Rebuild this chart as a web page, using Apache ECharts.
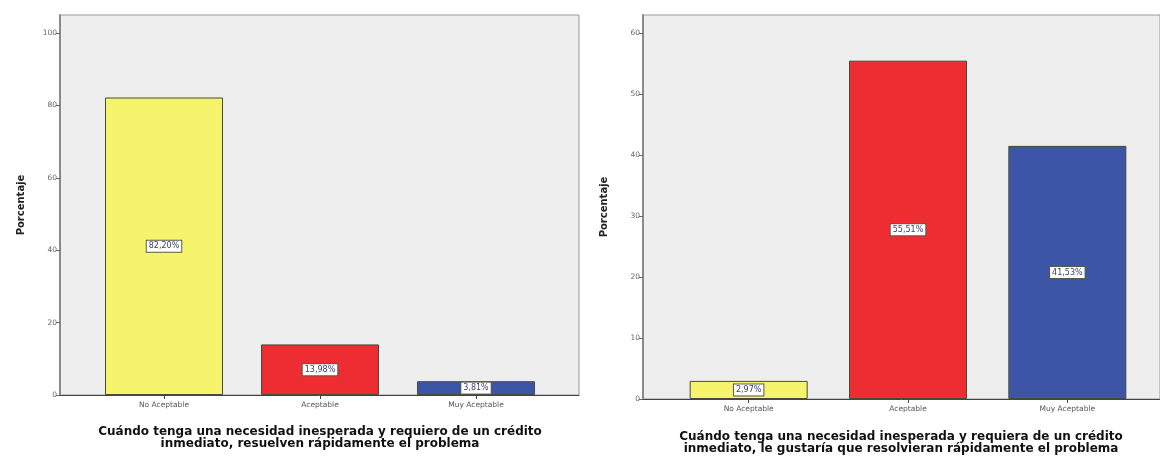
<!DOCTYPE html>
<html>
<head>
<meta charset="utf-8">
<script src="https://cdn.jsdelivr.net/npm/echarts@6/dist/echarts.min.js"></script>
<style>
  html, body { margin: 0; padding: 0; background: #ffffff; }
  #chart { width: 1160px; height: 456px; }
</style>
</head>
<body>
<div id="chart"></div>
<script>
// Response categories shared by both panels
const categories = ['No Aceptable', 'Aceptable', 'Muy Aceptable'];

// Percentages per panel
const valuesLeft = [82.20, 13.98, 3.81];
const valuesRight = [2.97, 55.51, 41.53];

// Y tick values per panel
const ticksLeft = [0, 20, 40, 60, 80, 100];
const ticksRight = [0, 10, 20, 30, 40, 50, 60];

// Bar fill colours per category
const barColors = ['#f6f36c', '#ee2d33', '#3c55a6'];

// Axis captions
const yTitle = 'Porcentaje';
const titleLeft = ['Cuándo tenga una necesidad inesperada y requiero de un crédito',
                   'inmediato, resuelven rápidamente el problema'];
const titleRight = ['Cuándo tenga una necesidad inesperada y requiera de un crédito',
                    'inmediato, le gustaría que resolvieran rápidamente el problema'];

const FONT = 'DejaVu Sans';

function pct(v) {
  return v.toFixed(2).replace('.', ',') + '%';
}

function barSeries(values, xi, yi) {
  return {
    type: 'bar',
    xAxisIndex: xi,
    yAxisIndex: yi,
    barWidth: 118,
    data: values.map((v, i) => ({
      value: v,
      itemStyle: { color: barColors[i] }
    })),
    itemStyle: { borderColor: '#4a4a3a', borderWidth: 1 },
    label: {
      show: true,
      position: 'inside',
      formatter: p => pct(p.value),
      fontFamily: FONT,
      fontSize: 8,
      color: '#3a3f66',
      backgroundColor: '#ffffff',
      borderColor: '#5a5a4a',
      borderWidth: 1,
      padding: [2, 2, 1, 2]
    },
    emphasis: { disabled: true },
    animation: false
  };
}

function frameY(max, ticks, grid) {
  return {
    type: 'value', gridIndex: grid, min: 0, max: max,
    name: yTitle, nameLocation: 'middle', nameGap: 34,
    nameTextStyle: { fontFamily: FONT, fontSize: 10, fontWeight: 'bold', color: '#222' },
    axisLine: { show: true, lineStyle: { color: '#8a8a8a', width: 2 } },
    axisTick: { show: true, length: 4, customValues: ticks, lineStyle: { color: '#666' } },
    axisLabel: {
      fontFamily: FONT, fontSize: 7.5, color: '#666', margin: 3,
      customValues: ticks
    },
    splitLine: { show: false }
  };
}

function hiddenY(max, grid) {
  return { type: 'value', gridIndex: grid, min: 0, max: max, show: false };
}

function frameX(grid) {
  return {
    type: 'value', gridIndex: grid, min: 0, max: 1,
    axisLine: { show: true, onZero: false, lineStyle: { color: '#444', width: 1 } },
    axisTick: { show: false }, axisLabel: { show: false }, splitLine: { show: false }
  };
}

function dataX(grid) {
  return {
    type: 'category', gridIndex: grid, data: categories,
    axisLine: { show: false },
    axisTick: { show: true, alignWithLabel: true, length: 4, lineStyle: { color: '#444' } },
    axisLabel: { fontFamily: FONT, fontSize: 7.5, color: '#555', margin: 6 }
  };
}

const chart = echarts.init(document.getElementById('chart'), null, { renderer: 'canvas' });

chart.setOption({
  backgroundColor: '#ffffff',
  animation: false,
  grid: [
    { left: 60, top: 15, width: 519, height: 380, show: true,
      backgroundColor: '#eeeeee', borderColor: '#9a9a9a', borderWidth: 1 },
    { left: 86, top: 15, width: 468, height: 380 },
    { left: 643, top: 15, width: 517, height: 384, show: true,
      backgroundColor: '#eeeeee', borderColor: '#9a9a9a', borderWidth: 1 },
    { left: 669, top: 15, width: 478, height: 384 }
  ],
  xAxis: [frameX(0), dataX(1), frameX(2), dataX(3)],
  yAxis: [frameY(105, ticksLeft, 0), hiddenY(105, 1), frameY(63, ticksRight, 2), hiddenY(63, 3)],
  series: [barSeries(valuesLeft, 1, 1), barSeries(valuesRight, 3, 3)],
  graphic: [
    {
      type: 'text',
      style: {
        x: 320, y: 426, text: titleLeft.join('\n'), align: 'center',
        font: 'bold 12px "' + FONT + '"', fill: '#111', lineHeight: 12
      }
    },
    {
      type: 'text',
      style: {
        x: 901, y: 431, text: titleRight.join('\n'), align: 'center',
        font: 'bold 12px "' + FONT + '"', fill: '#111', lineHeight: 12
      }
    }
  ]
});
</script>
</body>
</html>
